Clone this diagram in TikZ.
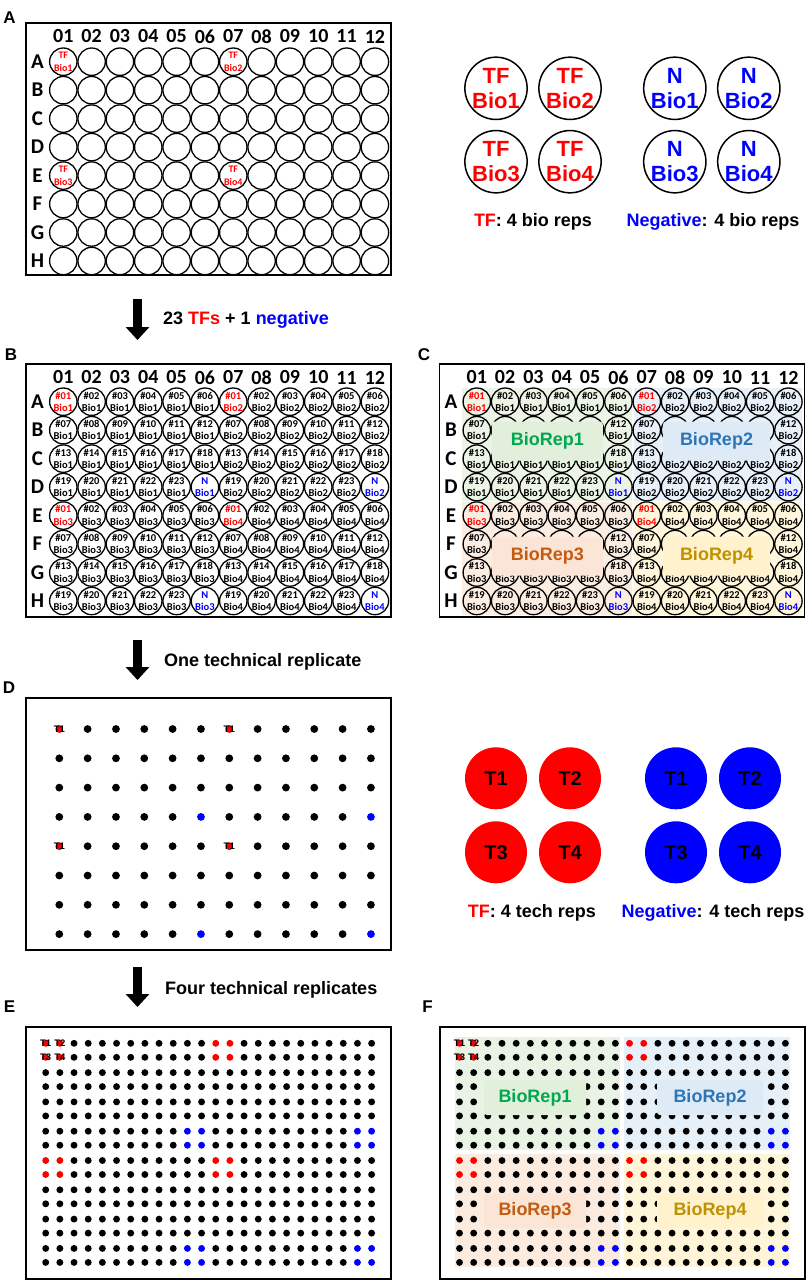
\documentclass[tikz,border=0pt]{standalone}
\usepackage{fontspec}
\setmainfont{Liberation Sans}
\newfontfamily\calfont{Carlito}
\usetikzlibrary{arrows.meta}

\definecolor{tfred}{RGB}{255,0,0}
\definecolor{negblue}{RGB}{0,0,255}
\definecolor{rep1}{RGB}{0,168,80}
\definecolor{rep2}{RGB}{46,117,182}
\definecolor{rep3}{RGB}{197,90,17}
\definecolor{rep4}{RGB}{191,144,0}
\definecolor{sh1}{RGB}{226,239,218}
\definecolor{sh2}{RGB}{222,235,247}
\definecolor{sh3}{RGB}{251,229,214}
\definecolor{sh4}{RGB}{255,242,204}

\begin{document}
\begin{tikzpicture}[x=1pt,y=-1pt,
  lab/.style={font=\fontsize{17}{17}\selectfont\bfseries},
  plate/.style={draw,line width=1.5pt},
  colhead/.style={font=\calfont\bfseries\fontsize{20}{20}\selectfont},
  rowhead/.style={font=\calfont\bfseries\fontsize{21}{21}\selectfont},
  well/.style={circle,draw,line width=1.3pt,minimum size=27.4pt,inner sep=0pt},
  welltxt/.style={align=center,inner sep=0pt,font=\calfont\bfseries\fontsize{10.5}{12.3}\selectfont},
  bigwell/.style={circle,draw,line width=1.5pt,minimum size=62pt,inner sep=0pt,align=center,font=\fontsize{22}{25}\selectfont\bfseries},
  techwell/.style={circle,minimum size=62pt,inner sep=0pt,font=\fontsize{20}{20}\selectfont\bfseries},
  legend/.style={font=\fontsize{18}{18}\selectfont\bfseries},
  note/.style={font=\fontsize{18}{18}\selectfont\bfseries,anchor=west,inner sep=0pt},
  dot/.style={circle,inner sep=0pt,minimum size=7.8pt},
  sdot/.style={circle,inner sep=0pt,minimum size=6.9pt},
  tlab/.style={inner sep=0pt,font=\fontsize{9.5}{9.5}\selectfont\bfseries},
  repbox/.style={rounded corners=3pt,inner sep=0pt,font=\fontsize{18}{18}\selectfont\bfseries},
  bigarrow/.style={line width=9pt,-{Triangle[width=23pt,length=13pt]}}]

\useasboundingbox (0,0) rectangle (807,1280);

% A: empty plate and the 4 bio reps
\node[lab] (labA) at (9.5,18) {A};
\draw[plate] (26,23) rectangle (391,275);
\foreach \c in {1,...,12}
  \node[colhead] (hA\c) at ({63.3+(\c-1)*28.33},36.5) {\ifnum\c<10 0\fi\c};
\foreach \rl [count=\r] in {A,...,H}
  \node[rowhead] (rA\r) at (37.5,{61.7+(\r-1)*28.47}) {\rl};
\foreach \r in {1,...,8}
  \foreach \c in {1,...,12}
    \node[well] (wA-\r-\c) at ({63.3+(\c-1)*28.33},{61.7+(\r-1)*28.47}) {};
\foreach \r/\c/\bio in {1/1/1,1/7/2,5/1/3,5/7/4}
  \node[welltxt,text=tfred,font=\calfont\bfseries\fontsize{10}{13}\selectfont] at (wA-\r-\c) {TF\\Bio\bio};

\foreach \x/\y/\bio in {496/88.3/1,570/88.3/2,496/161.7/3,570/161.7/4}{
  \node[bigwell,text=tfred] (tf\bio) at (\x,\y) {TF\\Bio\bio};
  \node[bigwell,text=negblue] (n\bio) at ({\x+178.8},\y) {N\\Bio\bio};
}
\node[legend] (legTF) at (533,222) {\textcolor{tfred}{TF}: 4 bio reps};
\node[legend] (legN) at (713,222) {\textcolor{negblue}{Negative}: 4 bio reps};

\coordinate (a1s) at (137.5,299);
\coordinate (a1e) at (137.5,340);
\draw[bigarrow] (a1s) -- (a1e);
\node[note] (txt1) at (163,320) {23 \textcolor{tfred}{TFs} + 1 \textcolor{negblue}{negative}};

% B and C: 23 TFs + negative
\node[lab] (labB) at (11,355) {B};
\node[lab] (labC) at (424,355) {C};
\fill[sh1!70] (462,388) rectangle (631.5,500.5);
\fill[sh2!70] (634,388) rectangle (802,500.5);
\fill[sh3!70] (462,502) rectangle (631.5,614.7);
\fill[sh4!70] (634,502) rectangle (802,614.7);

\foreach \sx/\p in {0/B,413.5/C}{
  \draw[plate] ({26+\sx},364) rectangle ({391+\sx},617);
  \foreach \c in {1,...,12}
    \node[colhead] (h\p\c) at ({63.3+\sx+(\c-1)*28.33},377.5) {\ifnum\c<10 0\fi\c};
  \foreach \rl [count=\r] in {A,...,H}
    \node[rowhead] (r\p\r) at ({37.5+\sx},{401.7+(\r-1)*28.47}) {\rl};
  \foreach \r in {1,...,8}
    \foreach \c in {1,...,12}{
      \pgfmathtruncatemacro\wn{mod(\r-1,4)*6+mod(\c-1,6)+1}
      \pgfmathtruncatemacro\bio{(\r>4)*2+(\c>6)+1}
      \pgfmathtruncatemacro\hid{(\sx>0)*(mod(\r-1,4)>0)*(mod(\r-1,4)<3)*(mod(\c-1,6)>0)*(mod(\c-1,6)<5)}
      \pgfmathtruncatemacro\lowrow{mod(\r-1,4)==2}
      \ifnum\wn=24 \def\wtop{N}\def\wcol{negblue}%
      \else\ifnum\wn=1 \def\wcol{tfred}\else\def\wcol{black}\fi
        \ifnum\wn<10 \edef\wtop{\noexpand\#0\wn}\else\edef\wtop{\noexpand\#\wn}\fi
      \fi
      \node[well] (w\p-\r-\c) at ({63.3+\sx+(\c-1)*28.33},{401.7+(\r-1)*28.47}) {};
      \ifnum\hid=1
        \ifnum\lowrow=1 \node[welltxt] at ([yshift=-6.3pt]w\p-\r-\c) {Bio\bio};\fi
      \else
        \node[welltxt,text=\wcol] at (w\p-\r-\c) {\wtop\\Bio\bio};
      \fi
    }
}
\node[repbox,fill=sh1,text=rep1,minimum width=111pt,minimum height=39pt] (repC1) at (547.3,441) {BioRep1};
\node[repbox,fill=sh2,text=rep2,minimum width=107pt,minimum height=39pt] (repC2) at (716.5,441) {BioRep2};
\node[repbox,fill=sh3,text=rep3,minimum width=111pt,minimum height=39pt] (repC3) at (547.3,556) {BioRep3};
\node[repbox,fill=sh4,text=rep4,minimum width=107pt,minimum height=39pt] (repC4) at (716.5,556) {BioRep4};

\coordinate (a2s) at (137.5,640);
\coordinate (a2e) at (137.5,680);
\draw[bigarrow] (a2s) -- (a2e);
\node[note] (txt2) at (164,662) {One technical replicate};

% D: one tech rep
\node[lab] (labD) at (9,688) {D};
\draw[plate] (26,698) rectangle (391,950);
\foreach \r in {1,...,8}
  \foreach \c in {1,...,12}{
    \pgfmathtruncatemacro\isred{(mod(\r-1,4)==0)*(mod(\c-1,6)==0)}
    \pgfmathtruncatemacro\isblue{(mod(\r,4)==0)*(mod(\c,6)==0)}
    \ifnum\isred=1 \def\dcol{tfred}\else\ifnum\isblue=1 \def\dcol{negblue}\else\def\dcol{black}\fi\fi
    \node[dot,fill=\dcol] (d-\r-\c) at ({59.3+(\c-1)*28.33},{729+(\r-1)*29.3}) {};
  }
\foreach \r/\c in {1/1,1/7,5/1,5/7}
  \node[tlab] at (d-\r-\c) {T1};

\foreach \x/\y/\tn in {496/778.3/1,570/778.3/2,496/852.3/3,570/852.3/4}{
  \node[techwell,fill=tfred] (tt\tn) at (\x,\y) {T\tn};
  \node[techwell,fill=negblue] (nt\tn) at ({\x+180},\y) {T\tn};
}
\node[legend] (legTF2) at (532,913) {\textcolor{tfred}{TF}: 4 tech reps};
\node[legend] (legN2) at (713,913) {\textcolor{negblue}{Negative}: 4 tech reps};

\coordinate (a3s) at (137.5,967);
\coordinate (a3e) at (137.5,1007);
\draw[bigarrow] (a3s) -- (a3e);
\node[note] (txt3) at (165,990) {Four technical replicates};

% E and F: four tech reps
\node[lab] (labE) at (9.5,1007) {E};
\node[lab] (labF) at (427.5,1007) {F};
\fill[sh1!75] (455,1037) rectangle (620,1150);
\fill[sh2!75] (624,1037) rectangle (790,1150);
\fill[sh3!75] (455,1154) rectangle (620,1267);
\fill[sh4!75] (624,1154) rectangle (790,1267);

\foreach \sx/\p in {0/E,413.8/F}{
  \draw[plate] ({26+\sx},1027) rectangle ({391+\sx},1279);
  \foreach \r in {1,...,16}
    \foreach \c in {1,...,24}{
      \pgfmathtruncatemacro\R{(\r+1)/2}
      \pgfmathtruncatemacro\C{(\c+1)/2}
      \pgfmathtruncatemacro\isred{(mod(\R-1,4)==0)*(mod(\C-1,6)==0)}
      \pgfmathtruncatemacro\isblue{(mod(\R,4)==0)*(mod(\C,6)==0)}
      \ifnum\isred=1 \def\dcol{tfred}\else\ifnum\isblue=1 \def\dcol{negblue}\else\def\dcol{black}\fi\fi
      \node[sdot,fill=\dcol] (\p-\r-\c) at ({45.7+\sx+(\c-1)*14.17},{1043.3+int((\r-1)/2)*29.3+mod(\r-1,2)*14}) {};
    }
  \foreach \r/\c/\tn in {1/1/1,1/2/2,2/1/3,2/2/4}
    \node[tlab] at (\p-\r-\c) {T\tn};
}
\node[repbox,fill=sh1,text=rep1,minimum width=102pt,minimum height=35pt] (repF1) at (535,1097.5) {BioRep1};
\node[repbox,fill=sh2,text=rep2,minimum width=106pt,minimum height=35pt] (repF2) at (710,1097.5) {BioRep2};
\node[repbox,fill=sh3,text=rep3,minimum width=102pt,minimum height=35pt] (repF3) at (535,1210.5) {BioRep3};
\node[repbox,fill=sh4,text=rep4,minimum width=106pt,minimum height=35pt] (repF4) at (710,1210.5) {BioRep4};

\end{tikzpicture}
\end{document}
